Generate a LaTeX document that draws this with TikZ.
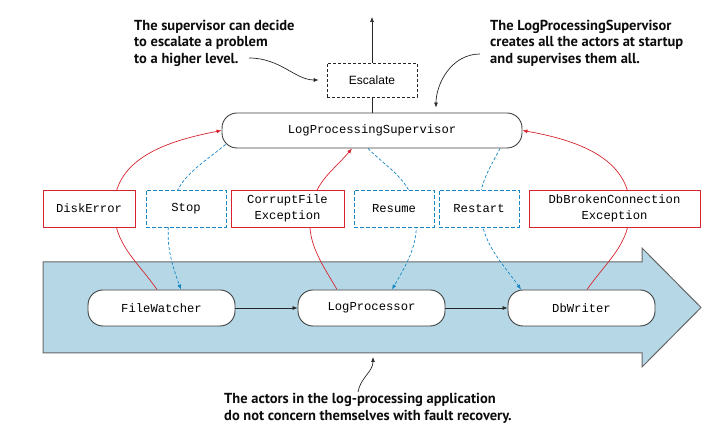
\documentclass[tikz,border=0pt]{standalone}
\usepackage{fontspec}
\setmonofont{Liberation Mono}
\newfontfamily\notefont{PT Sans}
\newfontfamily\labelfont{Liberation Sans}
\usepackage{xcolor}
\usetikzlibrary{arrows.meta}

\definecolor{faultred}{RGB}{214,36,46}
\definecolor{orderblue}{RGB}{22,134,196}
\definecolor{flowblue}{RGB}{182,216,230}

\pgfdeclarelayer{back}
\pgfdeclarelayer{mid}
\pgfsetlayers{back,mid,main}

\tikzset{
  actor/.style     = {draw=black!75, line width=0.9pt, fill=white,
                      rounded corners=15pt, minimum width=147pt,
                      minimum height=36pt,
                      font=\ttfamily\fontsize{12.2}{16}\selectfont},
  fault/.style     = {draw=faultred, line width=0.8pt, fill=white,
                      minimum height=37pt, align=center, inner sep=2pt,
                      font=\ttfamily\fontsize{12.2}{16}\selectfont},
  directive/.style = {fault, draw=orderblue,
                      dash pattern=on 4pt off 2pt},
  note/.style      = {inner sep=0pt, align=left, text=black!95,
                      font=\notefont\bfseries\fontsize{14.5}{16.5}\selectfont},
  tip/.style       = {-{Latex[length=5pt,width=4pt]}},
  failure/.style   = {tip, draw=faultred, line width=0.7pt},
  order/.style     = {tip, draw=orderblue, line width=0.7pt,
                      dash pattern=on 3pt off 2pt},
  pointer/.style   = {tip, draw=black!85, line width=0.7pt}
}

\begin{document}
\begin{tikzpicture}[x=1pt,y=1pt]
\useasboundingbox (0,0) rectangle (727,438);

% flow of the application
\begin{pgfonlayer}{back}
  \draw[draw=black!60, line width=1pt, fill=flowblue]
    (43,85) -- (43,176) -- (642,176) -- (642,190) -- (701,130.5)
    -- (642,71) -- (642,85) -- cycle;
\end{pgfonlayer}

% supervisor
\node[actor, minimum width=300pt, minimum height=35pt] (sup) at (372,307.5)
    {LogProcessingSupervisor};
\node[draw=black!85, line width=0.7pt, dash pattern=on 3pt off 2pt,
      minimum width=90pt, minimum height=34pt,
      font=\labelfont\fontsize{12}{14}\selectfont] (esc) at (372,358)
    {Escalate};
\coordinate (up) at (372,421);

% faults and directives
\node[fault, minimum width=92pt]  (disk)    at (89,229.5)    {DiskError};
\node[directive, minimum width=80pt] (stop) at (186,229.5)   {Stop};
\node[fault, minimum width=113pt] (corrupt) at (287.5,229.5) {CorruptFile\\Exception};
\node[directive, minimum width=80pt] (resume)  at (394,229.5) {Resume};
\node[directive, minimum width=80pt] (restart) at (479,229.5) {Restart};
\node[fault, minimum width=171pt] (broken)  at (614.5,229.5)
    {DbBrokenConnection\\Exception};

% actors
\node[actor] (fw)  at (161.5,130) {FileWatcher};
\node[actor] (lp)  at (371.5,130) {LogProcessor};
\node[actor] (dbw) at (581.5,130) {DbWriter};

% notes
\node[note, anchor=north west] (note1) at (134,418.5)
    {The supervisor can decide\\to escalate a problem\\to a higher level.};
\node[note, anchor=north west] (note2) at (490,418.5)
    {The LogProcessingSupervisor\\creates all the actors at startup\\and supervises them all.};
\node[note, anchor=north west] (note3) at (224,45)
    {The actors in the log-processing application\\do not concern themselves with fault recovery.};
\coordinate (n1)   at (249,380);
\coordinate (n2)   at (480,384);
\coordinate (n3)   at (358,46);
\coordinate (flow) at (373,81);

\draw[pointer] (esc.north) -- (up);
\draw[line width=0.7pt, draw=black!85] (esc.south) -- (sup.north);
\draw[tip, draw=black!85, line width=0.6pt] (fw) -- (lp);
\draw[tip, draw=black!85, line width=0.6pt] (lp) -- (dbw);

\draw[pointer, shorten >=8pt] (n1) to[out=0,in=180] (esc.west);
\draw[pointer, shorten >=5pt] (n2) to[out=180,in=90] ([xshift=64pt]sup.north);
\draw[pointer] (n3) to[out=80,in=-90] (flow);

\begin{pgfonlayer}{mid}
\draw[failure] ([xshift=-4.5pt]fw.north) to[out=125,in=-90]
    ([xshift=25pt]disk.center) to[out=90,in=191] (sup.west);
\draw[order] ([shift={(4pt,4pt)}]sup.south west) to[out=220,in=78]
    ([xshift=-15pt]stop.center) to[out=-102,in=110] ([xshift=19.5pt]fw.north);
\draw[failure] ([xshift=-34.5pt]lp.north) to[out=120,in=-100]
    ([xshift=23.5pt]corrupt.center) to[out=80,in=230] ([xshift=-20pt]sup.south);
\draw[order] ([xshift=-4pt]sup.south) to[out=-45,in=100]
    ([xshift=21pt]resume.center) to[out=-80,in=60] ([xshift=20.5pt]lp.north);
\draw[order] ([xshift=128pt]sup.south) to[out=-117,in=93]
    ([xshift=1pt]restart.center) to[out=-87,in=125] ([xshift=-60.5pt]dbw.north);
\draw[failure] ([xshift=5.5pt]dbw.north) to[out=55,in=-90]
    ([xshift=15.5pt]broken.center) to[out=90,in=-10] (sup.east);
\end{pgfonlayer}
\end{tikzpicture}
\end{document}
